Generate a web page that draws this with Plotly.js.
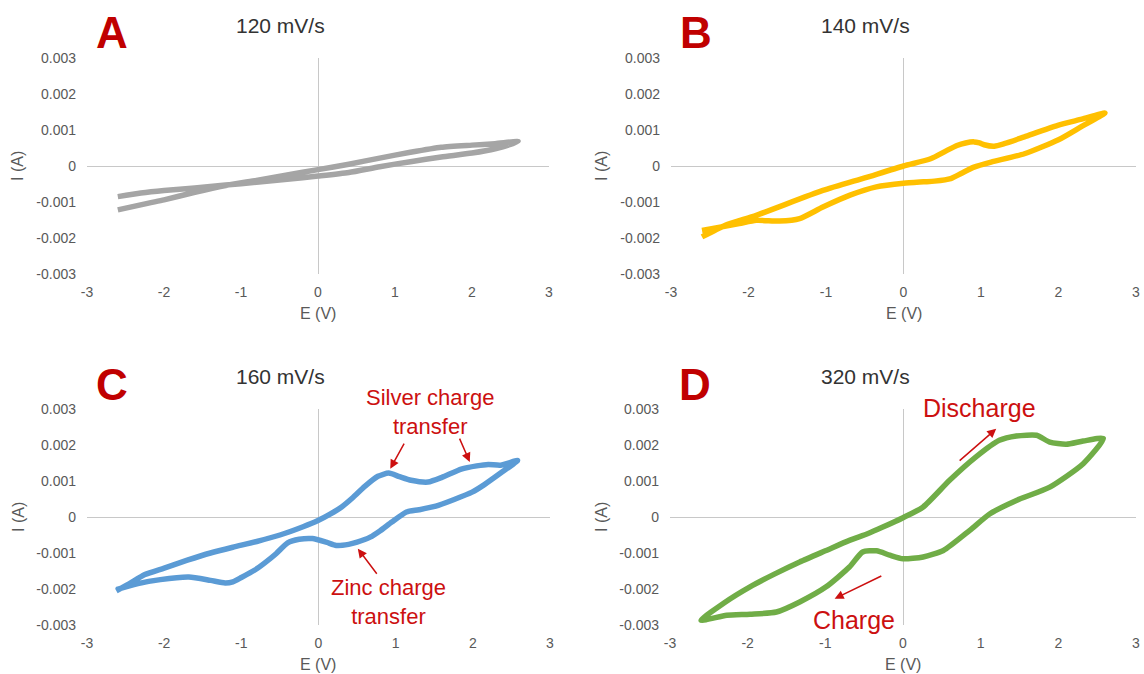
<!DOCTYPE html>
<html>
<head>
<meta charset="utf-8">
<script src="https://cdn.plot.ly/plotly-3.0.1.min.js"></script>
<style>html,body{margin:0;padding:0;background:#fff}#chart{width:1144px;height:674px}</style>
</head>
<body>
<div id="chart"></div>
<script>
// ---- Data (E in V, I in A) ----
const panelLetters = ["A", "B", "C", "D"];
const panelTitles = ["120 mV/s", "140 mV/s", "160 mV/s", "320 mV/s"];
const xTickVals = [-3, -2, -1, 0, 1, 2, 3];
const xTickText = ["-3", "-2", "-1", "0", "1", "2", "3"];
const yTickVals = [-0.003, -0.002, -0.001, 0, 0.001, 0.002, 0.003];
const yTickText = ["-0.003", "-0.002", "-0.001", "0", "0.001", "0.002", "0.003"];
const xTitle = "E (V)";
const yTitle = "I (A)";

// Panel A: 120 mV/s
const aE = [-2.6, -2.2, -2.0, -1.6, -1.2, -0.8, -0.4, 0, 0.4, 0.8, 1.2, 1.6, 2.0, 2.3, 2.6,
            2.3, 2.0, 1.6, 1.2, 0.8, 0.4, 0, -0.4, -0.8, -1.2, -1.6, -2.0, -2.3, -2.6];
const aI = [-0.00122, -0.00103, -0.00094, -0.00073, -0.00054, -0.00040, -0.00025, -0.00010, 0.00005, 0.00022, 0.00038, 0.00052, 0.00058, 0.00062, 0.00068,
            0.00048, 0.00036, 0.00025, 0.00012, -0.00002, -0.00018, -0.00028, -0.00037, -0.00045, -0.00053, -0.00061, -0.00068, -0.00075, -0.00085];

// Panel B: 140 mV/s
const bE = [-2.6, -2.3, -1.9, -1.04, -0.5, 0, 0.35, 0.55, 0.69, 0.8, 0.91, 0.98, 1.04, 1.17, 1.3, 1.56, 1.99, 2.3, 2.6,
            2.3, 2.0, 1.56, 1.13, 0.91, 0.75, 0.61, 0.4, 0.26, 0, -0.35, -0.69, -1.04, -1.34, -1.6, -1.9, -2.12, -2.6];
const bI = [-0.00197, -0.00165, -0.00137, -0.00068, -0.00033, 0.0, 0.00020, 0.00042, 0.00057, 0.00064, 0.00067, 0.00064, 0.00059, 0.00055, 0.00062, 0.00081, 0.00113, 0.00130, 0.00147,
            0.00110, 0.00073, 0.00034, 0.00011, -0.00003, -0.00020, -0.00035, -0.00042, -0.00044, -0.00048, -0.00058, -0.00081, -0.00114, -0.00146, -0.00153, -0.00151, -0.00160, -0.00179];

// Panel C: 160 mV/s
const cE = [-2.62, -2.45, -2.25, -2.0, -1.7, -1.4, -1.11, -0.8, -0.5, -0.2, 0, 0.15, 0.3, 0.45, 0.6, 0.77, 0.91, 1.05, 1.2, 1.42, 1.6, 1.85, 2.05, 2.2, 2.36, 2.58,
            2.36, 2.15, 1.99, 1.75, 1.52, 1.3, 1.14, 0.95, 0.8, 0.67, 0.5, 0.39, 0.23, 0.1, -0.08, -0.25, -0.4, -0.55, -0.7, -0.83, -1.0, -1.11, -1.21, -1.4, -1.68, -2.05, -2.34, -2.62];
const cI = [-0.00205, -0.00185, -0.00160, -0.00142, -0.00120, -0.00100, -0.00084, -0.00068, -0.00050, -0.00027, -0.00009, 0.00008, 0.00028, 0.00055, 0.00085, 0.00113, 0.00122, 0.00112, 0.00102, 0.00097, 0.00110, 0.00133, 0.00142, 0.00146, 0.00144, 0.00157,
            0.00122, 0.00090, 0.00069, 0.00048, 0.00030, 0.00020, 0.00014, -0.00014, -0.00038, -0.00056, -0.00070, -0.00076, -0.00079, -0.00070, -0.00060, -0.00062, -0.00072, -0.00102, -0.00128, -0.00148, -0.00168, -0.00180, -0.00183, -0.00176, -0.00167, -0.00174, -0.00185, -0.00202];

// Panel D: 320 mV/s
const dE = [-2.6, -2.3, -1.97, -1.65, -1.33, -1.0, -0.69, -0.45, -0.26, 0, 0.26, 0.6, 0.94, 1.24, 1.46, 1.72, 1.89, 2.1, 2.32, 2.58,
            2.32, 1.89, 1.46, 1.12, 0.86, 0.52, 0.26, 0, -0.17, -0.34, -0.52, -0.69, -0.99, -1.33, -1.63, -1.97, -2.27, -2.6];
const dI = [-0.00287, -0.00238, -0.00194, -0.00158, -0.00125, -0.00094, -0.00065, -0.00046, -0.00028, -0.00002, 0.00028, 0.00102, 0.00167, 0.00213, 0.00225, 0.00227, 0.00208, 0.00202, 0.00211, 0.00218,
            0.00148, 0.00083, 0.00046, 0.00009, -0.00037, -0.00093, -0.00111, -0.00116, -0.00106, -0.00094, -0.00097, -0.00139, -0.00194, -0.00236, -0.00264, -0.00270, -0.00273, -0.00287];

const lineColors = ["#a5a5a5", "#ffc000", "#5b9bd5", "#70ad47"];

// Annotation texts (panel C and D)
const cNotes = ["Silver charge<br>transfer", "Zinc charge<br>transfer"];
const dNotes = ["Discharge", "Charge"];

// ---- Layout ----
const W = 1144, H = 674;
const FONT = "Liberation Sans, Arial, sans-serif";
const boxes = [ // pixel boxes [left, right, top, bottom]
  [87, 549, 58, 274],
  [671, 1136, 58, 274],
  [87, 550, 409, 625],
  [670, 1136, 409, 625]
];
const series = [[aE, aI], [bE, bI], [cE, cI], [dE, dI]];

const traces = [];
const layout = {
  width: W, height: H,
  margin: {l: 0, r: 0, t: 0, b: 0},
  paper_bgcolor: "#ffffff", plot_bgcolor: "#ffffff",
  showlegend: false,
  font: {family: FONT, color: "#595959"},
  annotations: []
};

boxes.forEach((b, i) => {
  const n = i === 0 ? "" : String(i + 1);
  const xa = "xaxis" + n, ya = "yaxis" + n;
  const xr = "x" + n, yr = "y" + n;
  layout[xa] = {
    domain: [b[0] / W, b[1] / W], anchor: yr,
    range: [-3, 3], tickvals: xTickVals, ticktext: xTickText,
    showgrid: false, zeroline: true, zerolinecolor: "#c8c8c8", zerolinewidth: 1,
    showline: false, ticks: "", ticklabelstandoff: 8,
    tickfont: {size: 14, color: "#595959", family: FONT}, fixedrange: true
  };
  layout[ya] = {
    domain: [1 - b[3] / H, 1 - b[2] / H], anchor: xr,
    range: [-0.003, 0.003], tickvals: yTickVals, ticktext: yTickText,
    showgrid: false, zeroline: true, zerolinecolor: "#c8c8c8", zerolinewidth: 1,
    showline: false, ticks: "", ticklabelstandoff: 10,
    tickfont: {size: 14, color: "#595959", family: FONT}, fixedrange: true
  };
  traces.push({
    x: series[i][0], y: series[i][1], xaxis: xr, yaxis: yr,
    type: "scatter", mode: "lines",
    line: {color: lineColors[i], width: 5.5, shape: "spline", smoothing: 0.6},
    hoverinfo: "skip"
  });
  const midX = (b[0] + b[1]) / 2;
  // panel letter
  layout.annotations.push({
    xref: "paper", yref: "paper", x: (b[0] + 25) / W, y: 1 - (b[2] - 25) / H,
    text: "<b>" + panelLetters[i] + "</b>", showarrow: false,
    xanchor: "center", yanchor: "middle",
    font: {family: FONT, size: 44, color: "#c00000"}
  });
  // panel title
  layout.annotations.push({
    xref: "paper", yref: "paper", x: (midX - 38) / W, y: 1 - (b[2] - 33) / H,
    text: panelTitles[i], showarrow: false, xanchor: "center", yanchor: "middle",
    font: {family: FONT, size: 21, color: "#333333"}
  });
  // x axis title
  layout.annotations.push({
    xref: "paper", yref: "paper", x: (b[0] + (b[1] - b[0]) / 2) / W, y: 1 - (b[3] + 39) / H,
    text: xTitle, showarrow: false, xanchor: "center", yanchor: "middle",
    font: {family: FONT, size: 16, color: "#595959"}
  });
  // y axis title
  layout.annotations.push({
    xref: "paper", yref: "paper", x: (b[0] - 69) / W, y: 1 - ((b[2] + b[3]) / 2) / H,
    text: yTitle, showarrow: false, textangle: -90, xanchor: "center", yanchor: "middle",
    font: {family: FONT, size: 16, color: "#595959"}
  });
});

const red = "#cc1010";
// Panel C notes
layout.annotations.push({xref: "x3", yref: "y3", x: 1.45, y: 0.00292, text: cNotes[0], showarrow: false,
  font: {family: FONT, size: 22, color: red}, xanchor: "center", yanchor: "middle"});
layout.annotations.push({xref: "x3", yref: "y3", x: 0.91, y: -0.00236, text: cNotes[1], showarrow: false,
  font: {family: FONT, size: 22, color: red}, xanchor: "center", yanchor: "middle"});
// arrows C
[[0.93, 0.00134, 1.12, 0.00208], [1.96, 0.00153, 1.82, 0.00222], [0.51, -0.00088, 0.77, -0.00162]].forEach(a => {
  layout.annotations.push({xref: "x3", yref: "y3", axref: "x3", ayref: "y3", x: a[0], y: a[1], ax: a[2], ay: a[3],
    text: "", showarrow: true, arrowhead: 2, arrowsize: 1.2, arrowwidth: 1.5, arrowcolor: red});
});
// Panel D notes (paper placement: Discharge sits above the axis range)
layout.annotations.push({xref: "paper", yref: "paper", x: 979 / W, y: 1 - 408 / H, text: dNotes[0], showarrow: false,
  font: {family: FONT, size: 25, color: red}, xanchor: "center", yanchor: "middle"});
layout.annotations.push({xref: "paper", yref: "paper", x: 854 / W, y: 1 - 620 / H, text: dNotes[1], showarrow: false,
  font: {family: FONT, size: 25, color: red}, xanchor: "center", yanchor: "middle"});
[[1.2, 0.00245, 0.71, 0.00153], [-0.88, -0.00227, -0.26, -0.00162]].forEach(a => {
  layout.annotations.push({xref: "x4", yref: "y4", axref: "x4", ayref: "y4", x: a[0], y: a[1], ax: a[2], ay: a[3],
    text: "", showarrow: true, arrowhead: 2, arrowsize: 1.2, arrowwidth: 1.5, arrowcolor: red});
});

Plotly.newPlot("chart", traces, layout, {displayModeBar: false, staticPlot: true});
</script>
</body>
</html>
